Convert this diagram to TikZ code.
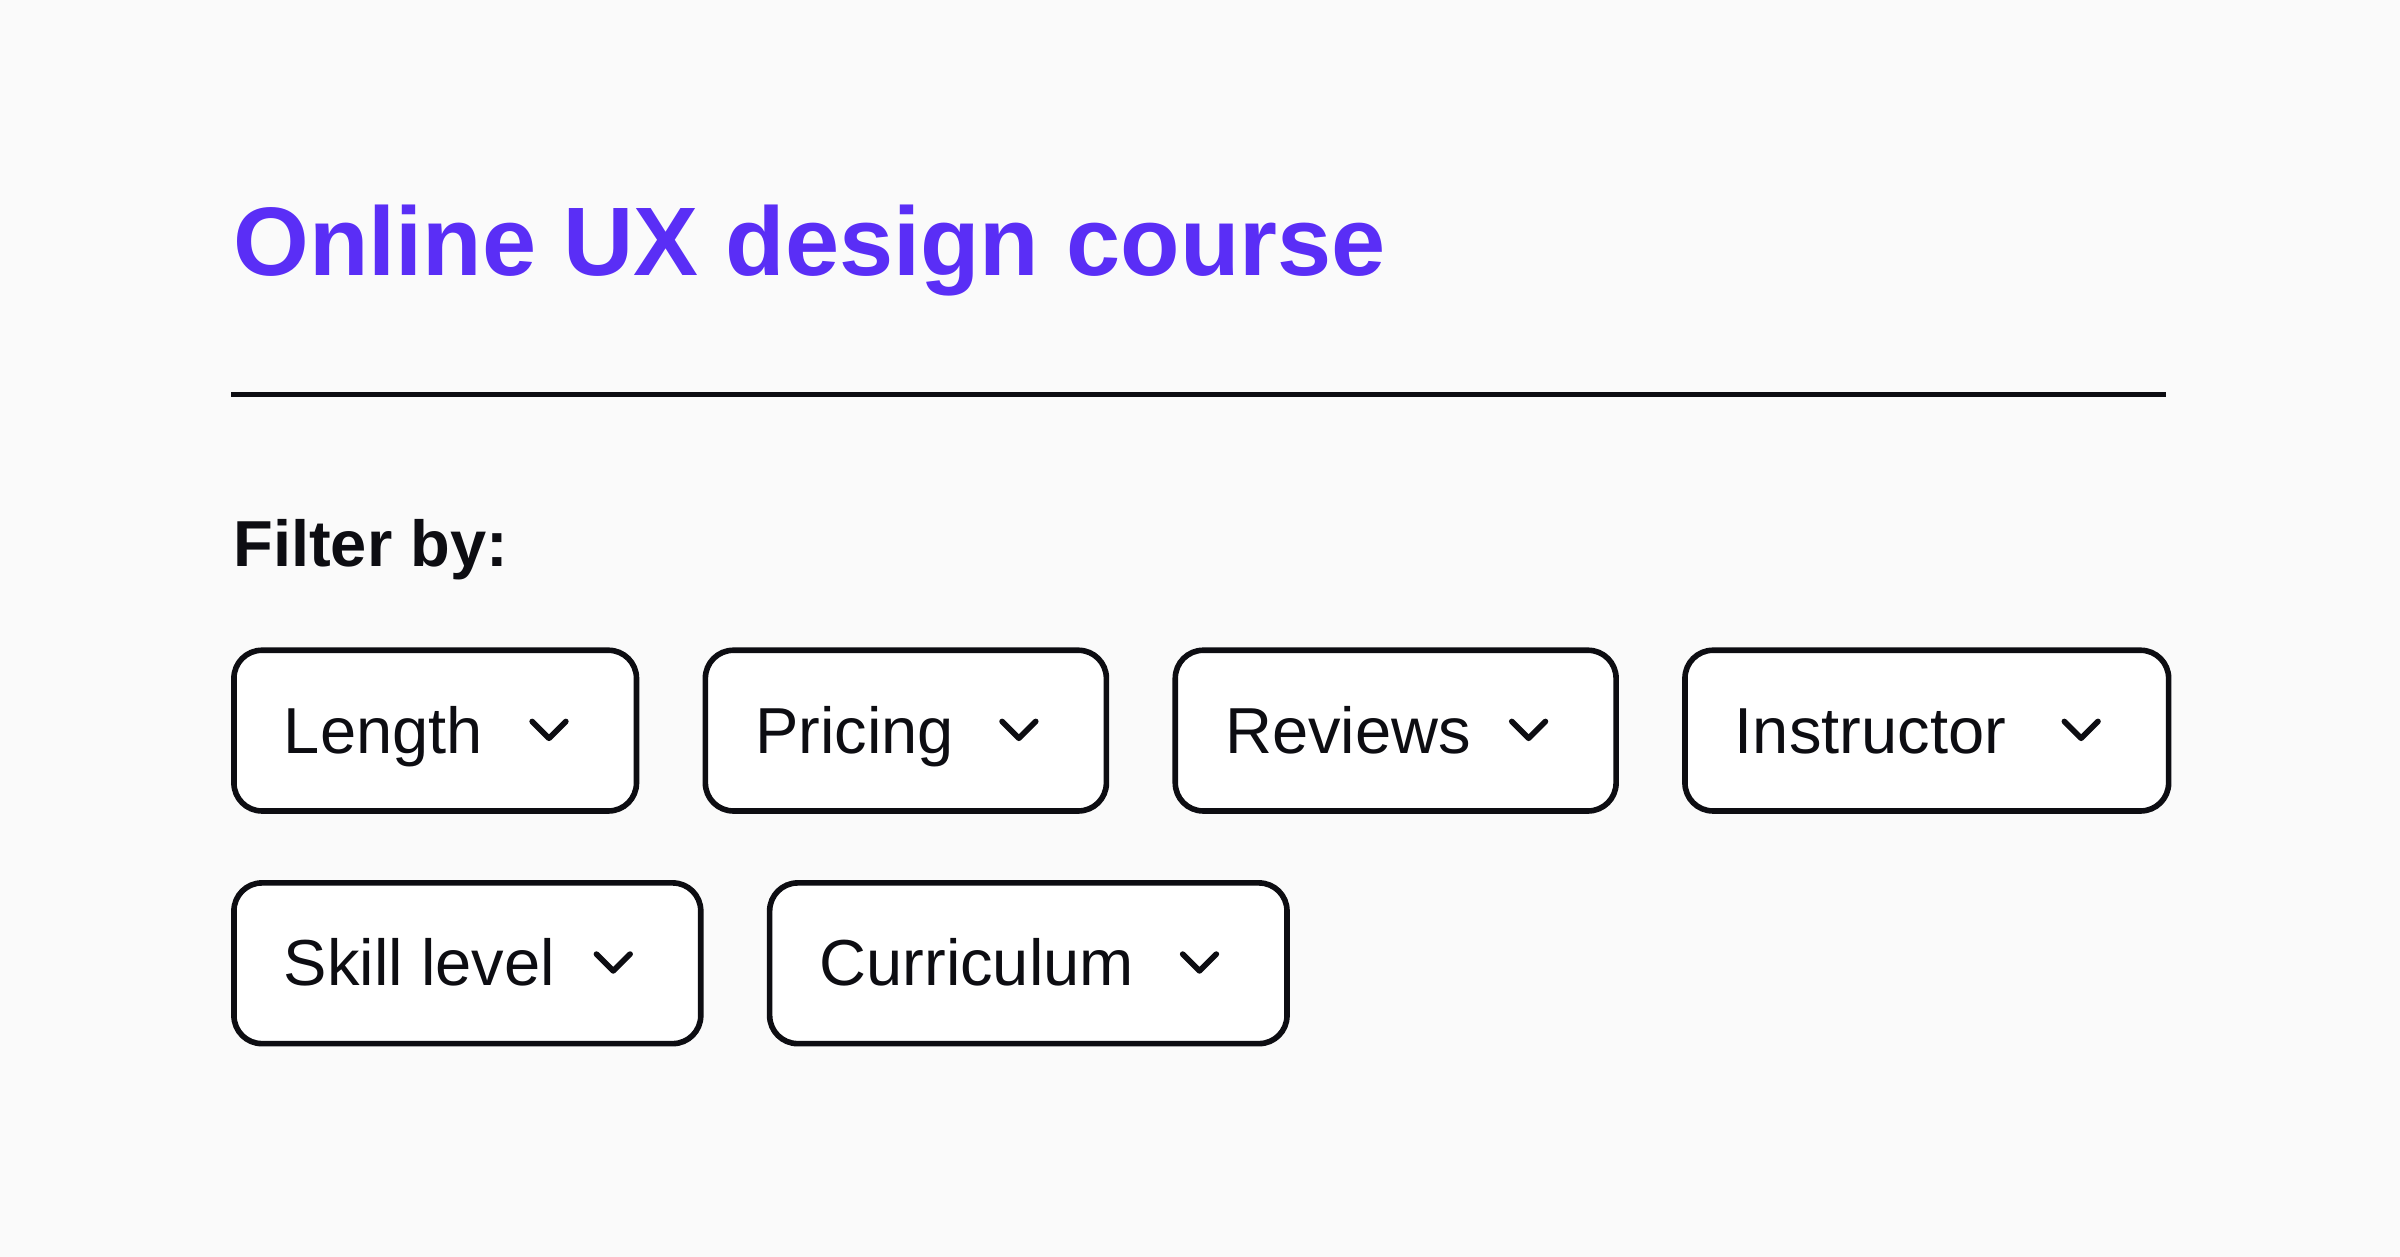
\documentclass[tikz,border=0pt]{standalone}
\usepackage{fontspec}
\setmainfont{Liberation Sans}
\usetikzlibrary{calc,positioning}
\definecolor{bgcol}{HTML}{FAFAFA}
\definecolor{titlecol}{HTML}{5A2EF6}
\definecolor{inkcol}{HTML}{0D0D12}

\tikzset{
  filterbox/.style={draw=inkcol, line width=1.6pt, rounded corners=0.28cm, fill=white,
    anchor=north west, inner sep=0pt, minimum height=1.607cm},
  filterlabel/.style={anchor=base west, inner sep=0pt, text=inkcol, font=\fontsize{18.5}{22}\selectfont},
  chevron/.style={draw=inkcol, line width=1.6pt, line cap=round, line join=round}
}

% one dropdown button: name, x, y, width, label
\newcommand{\filterbtn}[5]{%
  \node[filterbox, minimum width=#4*0.015306cm] (#1) at (#2,#3) {};
  \node[filterlabel] (#1-txt) at ($(#1.north west)+(34,69)$) {#5};
  \draw[chevron] ($(#1.east)+(-70,-6)$) -- ($(#1.east)+(-59,5)$) -- ($(#1.east)+(-48,-6)$);
}

\begin{document}
\begin{tikzpicture}[x=0.015306cm, y=-0.015306cm]

\fill[bgcol] (0,0) rectangle (1568,821);
\useasboundingbox (0,0) rectangle (1568,821);

\node[anchor=base west, inner sep=0pt, text=titlecol, font=\fontsize{27.7}{33}\bfseries] (title) at (152,180) {Online UX design course};
\draw[inkcol, line width=1.4pt] (151,258) coordinate (ruleL) -- (1415,258) coordinate (ruleR);

\node[anchor=base west, inner sep=0pt, text=inkcol, font=\fontsize{18.5}{22}\bfseries] (filterby) at (152,370) {Filter by:};

% first row
\filterbtn{length}{151}{423}{263}{Length}
\filterbtn{pricing}{459}{423}{262}{Pricing}
\filterbtn{reviews}{766}{423}{288}{Reviews}
\filterbtn{instructor}{1099}{423}{316}{Instructor}

% second row
\filterbtn{skill}{151}{575}{305}{Skill level}
\filterbtn{curriculum}{501}{575}{338}{Curriculum}

\end{tikzpicture}
\end{document}
